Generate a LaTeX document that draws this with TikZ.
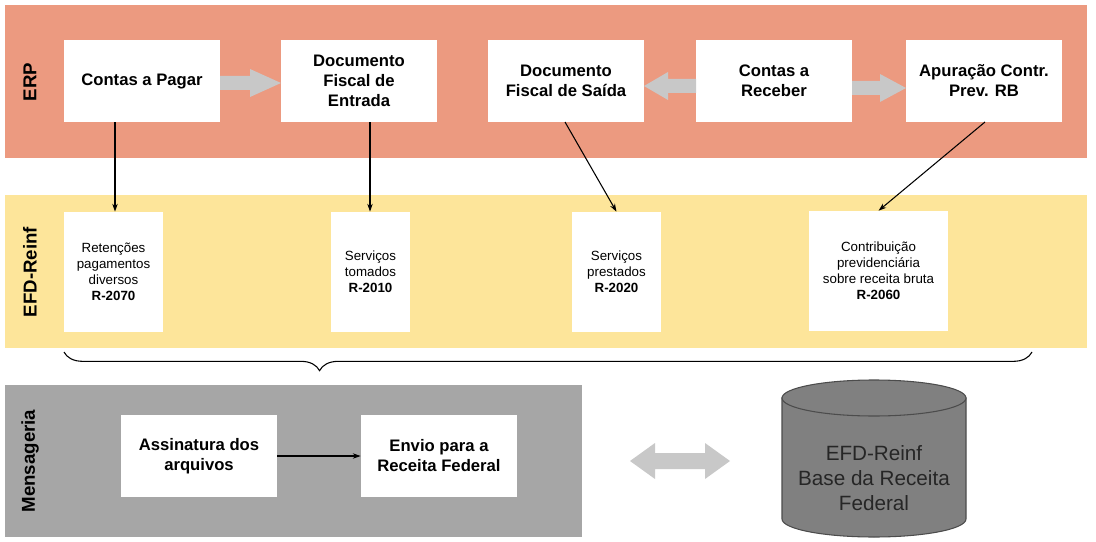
\documentclass[tikz,border=0pt]{standalone}
\usepackage{fontspec}
\setmainfont{Liberation Sans}
\usetikzlibrary{arrows.meta,decorations.pathreplacing}
\definecolor{erp}{HTML}{EC9A80}
\definecolor{efd}{HTML}{FDE59A}
\definecolor{msg}{HTML}{A6A6A6}
\definecolor{garrow}{HTML}{C8C8C8}
\definecolor{cyl}{HTML}{808080}
\begin{document}
\begin{tikzpicture}[x=0.75pt,y=-0.75pt,
  band/.style={draw=none,anchor=north west,inner sep=0},
  box/.style={fill=white,draw=none,align=center,inner sep=2pt},
  ebox/.style={box,minimum width=156*0.75pt,minimum height=82*0.75pt,font=\bfseries\fontsize{12.5}{15}\selectfont},
  rbox/.style={box,font=\fontsize{10}{12}\selectfont},
  lbl/.style={rotate=90,font=\bfseries\fontsize{14}{16}\selectfont},
  conn/.style={-{Stealth[length=6pt,width=4pt]},line width=0.8pt},
  fat/.style={draw=none,fill=garrow,single arrow}]
\useasboundingbox (0,0) rectangle (1096,542);
\fill[erp] (5,5) rectangle (1087,158);
\fill[efd] (5,195) rectangle (1087,348);
\fill[msg] (5,385) rectangle (582,537);
\node[lbl] (lerp) at (30,82) {ERP};
\node[lbl] (lefd) at (30,272) {EFD-Reinf};
\node[lbl] (lmsg) at (30,461) {Mensageria};
\node[ebox] (cp) at (142,81) {Contas a Pagar};
\node[ebox] (dfe) at (359,81) {Documento\\Fiscal de\\Entrada};
\node[ebox] (dfs) at (566,81) {Documento\\Fiscal de Saída};
\node[ebox] (cr) at (774,81) {Contas a\\Receber};
\node[ebox] (ap) at (984,81) {Apuração Contr.\\Prev. RB};
\fill[garrow] (220,76)--(250,76)--(250,69)--(281,83)--(250,97)--(250,90)--(220,90)--cycle;
\fill[garrow] (696,79)--(668,79)--(668,72)--(644,86)--(668,100)--(668,93)--(696,93)--cycle;
\fill[garrow] (852,81)--(880,81)--(880,74)--(906,88)--(880,102)--(880,95)--(852,95)--cycle;
\node[rbox,minimum width=99*0.75pt,minimum height=120*0.75pt] (r70) at (113.5,272) {Retenções\\pagamentos\\diversos\\\textbf{R-2070}};
\node[rbox,minimum width=79*0.75pt,minimum height=120*0.75pt] (r10) at (370.5,272) {Serviços\\tomados\\\textbf{R-2010}};
\node[rbox,minimum width=89*0.75pt,minimum height=120*0.75pt] (r20) at (616.5,272) {Serviços\\prestados\\\textbf{R-2020}};
\node[rbox,minimum width=139*0.75pt,minimum height=120*0.75pt] (r60) at (878.5,271) {Contribuição\\previdenciária\\sobre receita bruta\\\textbf{R-2060}};
\draw[conn] (cp.south -| 115,0) -- (r70.north -| 115,0);
\draw[conn] (dfe.south -| 370,0) -- (r10.north -| 370,0);
\draw[conn] (565,122) -- (r20.north);
\draw[conn] (985,122) -- (r60.north);
\draw[decorate,decoration={brace,mirror,amplitude=14pt,aspect=0.264},line width=0.8pt] (64,352) -- (1032,352);
\node[ebox] (as) at (199,456) {Assinatura dos\\arquivos};
\node[ebox] (en) at (439,456) {Envio para a\\Receita Federal};
\draw[conn] (as) -- (en);
\fill[garrow] (630,461)--(655,443)--(655,453)--(705,453)--(705,443)--(730,461)--(705,479)--(705,469)--(655,469)--(655,479)--cycle;
\draw[fill=cyl,draw=black!70,line width=0.8pt] (782,398) -- (782,519) arc[start angle=180,end angle=0,x radius=92,y radius=18] -- (966,398) -- cycle;
\draw[fill=cyl,draw=black!70,line width=0.8pt] (874,398) ellipse[x radius=92,y radius=18];
\node[align=center,font=\fontsize{15.5}{18.5}\selectfont,text=black!85] (db) at (874,478) {EFD-Reinf\\Base da Receita\\Federal};
\end{tikzpicture}
\end{document}
